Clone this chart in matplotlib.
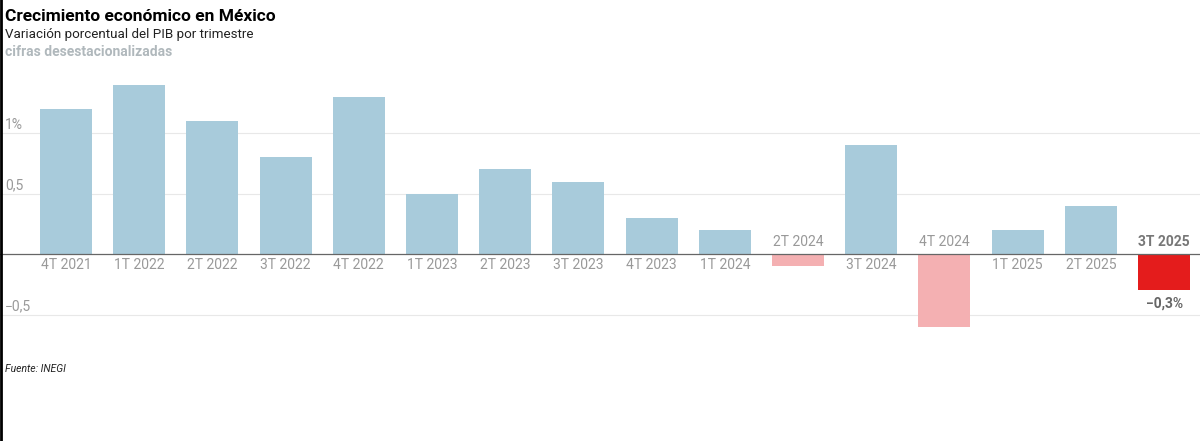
import matplotlib.pyplot as plt

quarters = ["4T 2021", "1T 2022", "2T 2022", "3T 2022", "4T 2022", "1T 2023",
            "2T 2023", "3T 2023", "4T 2023", "1T 2024", "2T 2024", "3T 2024",
            "4T 2024", "1T 2025", "2T 2025", "3T 2025"]
growth = [1.2, 1.4, 1.1, 0.8, 1.3, 0.5, 0.7, 0.6, 0.3, 0.2, -0.1, 0.9, -0.6, 0.2, 0.4, -0.3]
yticks = [-0.5, 0.5, 1.0]
ytick_labels = ["\u22120,5", "0,5", "1%"]

plt.rcParams['font.family'] = ['Roboto', 'DejaVu Sans']

fig = plt.figure(figsize=(12, 4.41), dpi=100)
ax = fig.add_axes([0, (441 - 340) / 441, 1, 260 / 441])

colors = []
for i, v in enumerate(growth):
    if i == len(growth) - 1:
        colors.append('#e41c1c')
    elif v < 0:
        colors.append('#f4b0b2')
    else:
        colors.append('#a8cbdb')

x = list(range(len(growth)))
ax.bar(x, growth, width=0.71, color=colors, zorder=2)
ax.set_xlim(-0.9, 15.49)
ax.set_ylim(-0.71, 1.44)

for t, lab in zip(yticks, ytick_labels):
    ax.axhline(t, color='#e8e8e8', lw=0.8, zorder=1)
    ax.text(0.004, t + 0.01, lab, transform=ax.get_yaxis_transform(),
            color='#999999', fontsize=10, va='bottom', ha='left')
ax.axhline(0, color='#666666', lw=0.9, zorder=3)

for i, (q, v) in enumerate(zip(quarters, growth)):
    last = i == len(growth) - 1
    if v >= 0:
        ax.text(i, -0.035, q, ha='center', va='top', fontsize=10, color='#999999')
    else:
        ax.text(i, 0.04, q, ha='center', va='bottom', fontsize=10,
                color='#777777' if last else '#999999',
                fontweight='bold' if last else 'normal')
ax.text(len(growth) - 1, growth[-1] - 0.05, "\u22120,3%", ha='center', va='top',
        fontsize=10, color='#666666', fontweight='bold')

ax.axis('off')

fig.text(0.004, 0.98, "Crecimiento económico en México", fontsize=12.5,
         fontweight='bold', va='top', color='black')
fig.text(0.004, 0.937, "Variación porcentual del PIB por trimestre", fontsize=9.6,
         va='top', color='#222222')
fig.text(0.004, 0.897, "cifras desestacionalizadas", fontsize=10,
         va='top', color='#b0b8bc', fontweight='bold')
fig.text(0.004, (441 - 369) / 441, "Fuente: INEGI", fontsize=7.5, style='italic',
         va='center', color='#222222')

fig.add_artist(plt.Line2D([0.001, 0.001], [0, 1], color='black', lw=2,
                          transform=fig.transFigure))

fig.savefig('out.png', dpi=100, facecolor='white')
